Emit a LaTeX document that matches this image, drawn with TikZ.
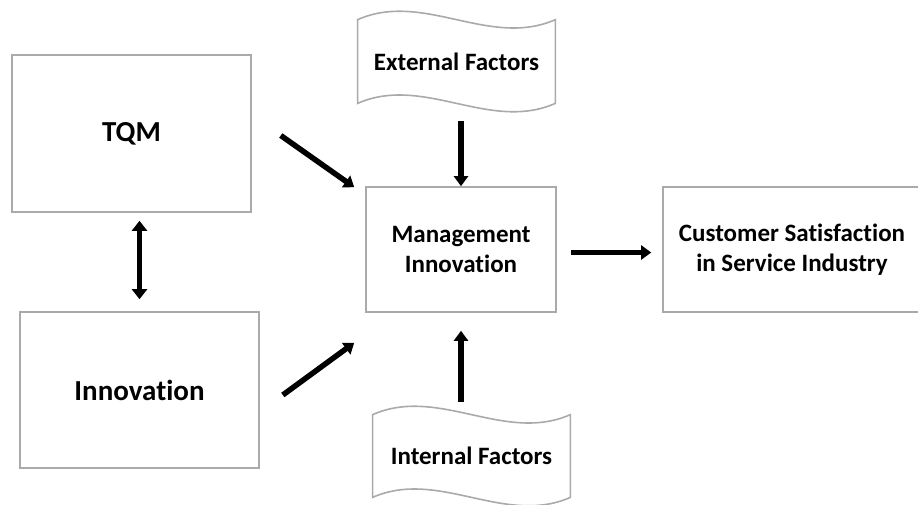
\documentclass[tikz,border=0pt]{standalone}
\usepackage{fontspec}
\setmainfont{Carlito}[RawFeature={-liga,-dlig}]
\usetikzlibrary{arrows.meta}

\tikzset{every picture/.style={line width=0.75pt}}
\tikzset{
  box/.style={draw={rgb,255:red,170;green,170;blue,170}, line width=1.6pt, fill=white, align=center, inner sep=0pt, font=\bfseries\fontsize{25}{30}\selectfont},
  bigbox/.style={box, font=\bfseries\fontsize{29}{34}\selectfont},
  wavetext/.style={align=center, inner sep=0pt, font=\bfseries\fontsize{25}{30}\selectfont},
  waveline/.style={draw={rgb,255:red,170;green,170;blue,170}, line width=1.6pt, fill=white},
  bigarrow/.style={line width=5.5pt, -{Triangle[length=10pt,width=14pt]}},
  bothways/.style={line width=5.5pt, {Triangle[length=10pt,width=15pt]}-{Triangle[length=10pt,width=15pt]}}
}

\begin{document}
\begin{tikzpicture}[x=1pt,y=-1pt]
	\useasboundingbox (0,0) rectangle (918,504);
	
	%Shape: Rectangle
	\node[bigbox, minimum width=239pt, minimum height=157pt] (tqm) at (131.5,133.5) {TQM};
	%Shape: Rectangle
	\node[bigbox, minimum width=239pt, minimum height=156pt] (inno) at (139.5,390) {Innovation};
	%Shape: Rectangle
	\node[box, minimum width=190pt, minimum height=125pt] (mgmt) at (461,249.5) {Management\\Innovation};
	%Shape: Rectangle
	\node[box, minimum width=258pt, minimum height=125pt] (cust) at (792,249.5) {Customer Satisfaction\\in Service Industry};
	
	%Shape: Wave
	\node[minimum width=197pt, minimum height=83pt] (ext) at (456.5,61.5) {};
	\draw[waveline] (ext.north west) .. controls +(66,-29) and +(-66,29) .. (ext.north east) -- (ext.south east) .. controls +(-66,29) and +(66,-29) .. (ext.south west) -- cycle;
	% Text Node
	\node[wavetext] at (ext) {External Factors};
	%Shape: Wave
	\node[minimum width=197pt, minimum height=82pt] (intf) at (471.5,456) {};
	\draw[waveline] (intf.north west) .. controls +(66,-29) and +(-66,29) .. (intf.north east) -- (intf.south east) .. controls +(-66,29) and +(66,-29) .. (intf.south west) -- cycle;
	% Text Node
	\node[wavetext] at (intf) {Internal Factors};
	
	%Straight Lines
	\draw[bigarrow] ([shift={(29,2)}]tqm.east) -- ([shift={(-11,1)}]mgmt.north west);
	%Straight Lines
	\draw[bigarrow] ([shift={(23,5)}]inno.east) -- ([shift={(-11,30)}]mgmt.south west);
	%Straight Lines
	\draw[bothways] ([shift={(8,8)}]tqm.south) -- ([shift={(0,-12)}]inno.north);
	%Straight Lines
	\draw[bigarrow] ([yshift=-18pt]ext.south -| mgmt.north) -- (mgmt.north);
	%Straight Lines
	\draw[bigarrow, shorten >=18pt] ([yshift=13pt]intf.north -| mgmt.south) -- (mgmt.south);
	%Straight Lines
	\draw[bigarrow, shorten <=14pt, shorten >=11pt] ([yshift=-3pt]mgmt.east) -- ([yshift=-3pt]cust.west);
	
\end{tikzpicture}
\end{document}
